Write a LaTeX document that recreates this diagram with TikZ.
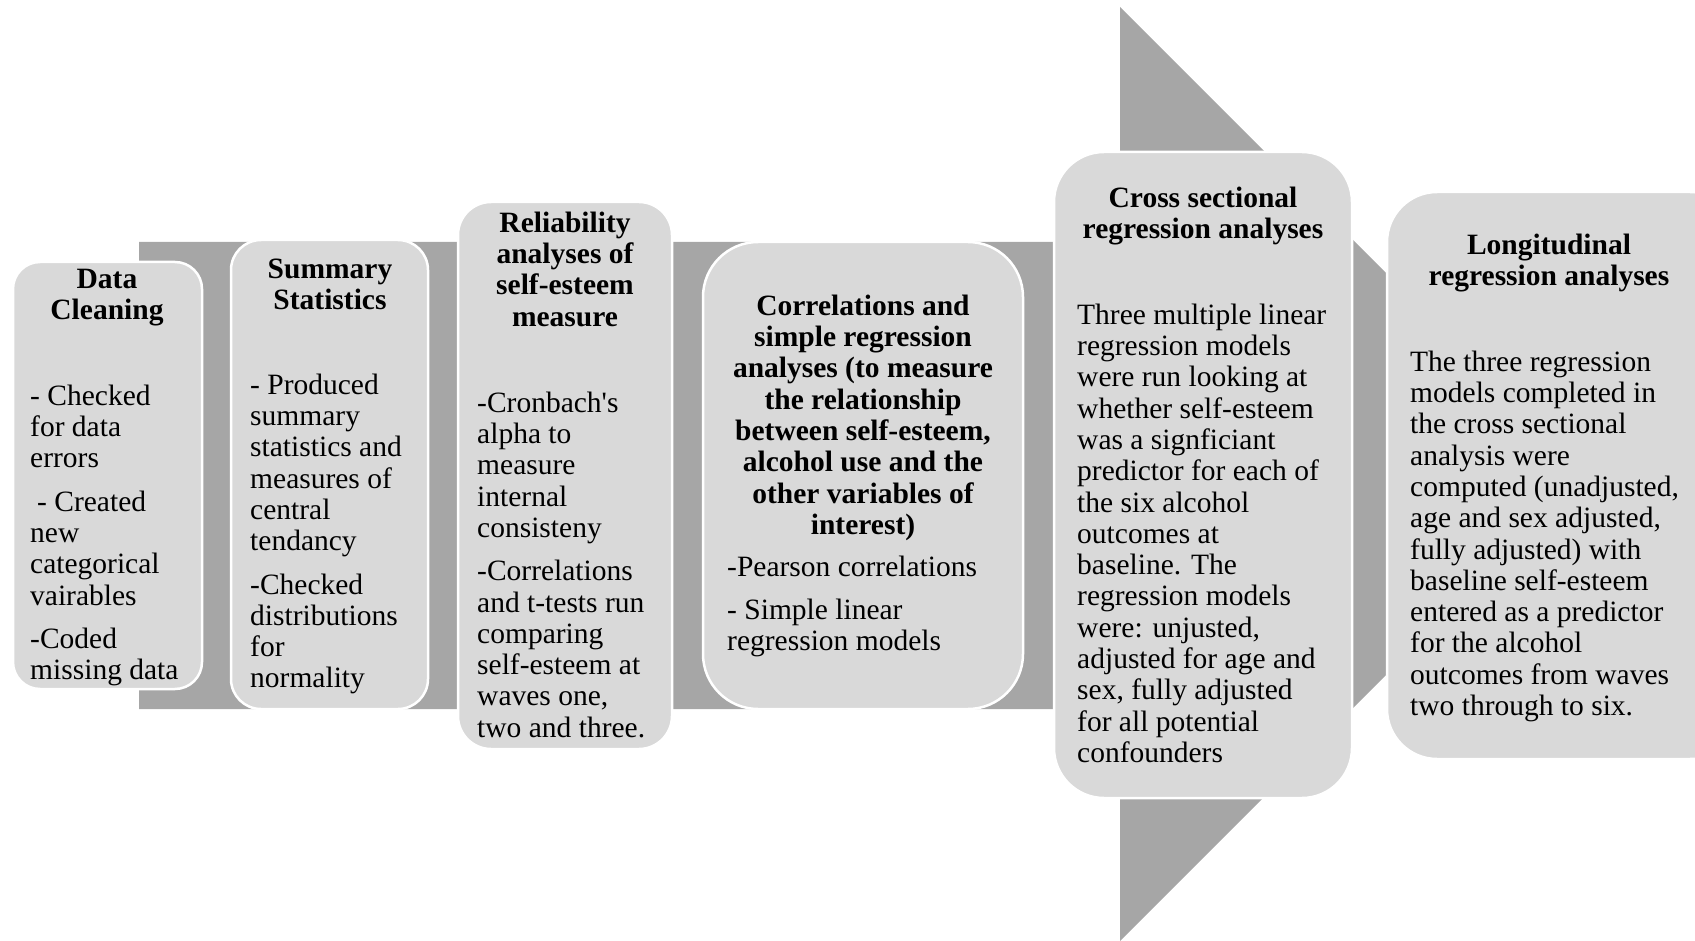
\documentclass[tikz,border=0pt]{standalone}
\usepackage{fontspec}
\setmainfont{Liberation Serif}
\definecolor{boxfill}{HTML}{D9D9D9}
\definecolor{arrowgray}{HTML}{A6A6A6}
\begin{document}
\begin{tikzpicture}[x=1pt,y=-1pt,
  box/.style={draw=white, line width=2.5pt, fill=boxfill, inner sep=0pt},
  hd/.style={font=\fontsize{29.5}{31.3}\selectfont\bfseries, align=center, anchor=north, inner sep=0pt},
  bd/.style={font=\fontsize{29.5}{31.3}\selectfont, align=left, anchor=north west, inner sep=0pt}]
\useasboundingbox (0,0) rectangle (1695,941);
\clip (0,0) rectangle (1695,941);
% big arrow
\fill[arrowgray] (139,242) -- (1120,242) -- (1120,7) -- (1587,474) -- (1120,941) -- (1120,709) -- (139,709) -- cycle;
% boxes
\node[box, rounded corners=27pt, minimum width=189pt, minimum height=427pt] (b1) at (107.5,475.5) {};
\node[box, rounded corners=30pt, minimum width=197pt, minimum height=469pt] (b2) at (329.5,474.5) {};
\node[box, rounded corners=33pt, minimum width=214pt, minimum height=547pt] (b3) at (565,475.5) {};
\node[box, rounded corners=55pt, minimum width=320pt, minimum height=467pt] (b4) at (863,475.5) {};
\node[box, rounded corners=50pt, minimum width=298pt, minimum height=646pt] (b5) at (1203,475) {};
\node[box, rounded corners=50pt, minimum width=353pt, minimum height=567pt] (b6) at (1563.5,475.5) {};
% texts
\node[hd] (h1) at (107,266.1) {\strut Data\\Cleaning};
\node[bd] (t1) at (30,383.1) {\strut- Checked\\for data\\errors\\[12pt]\hspace*{7pt}- Created\\new\\categorical\\vairables\\[12pt]-Coded\\missing data};
\node[hd] (h2) at (330,256.1) {\strut Summary\\Statistics};
\node[bd] (t2) at (250,372.1) {\strut- Produced\\summary\\statistics and\\measures of\\central\\tendancy\\[12pt]-Checked\\distributions\\for\\normality};
\node[hd] (h3) at (565,210.1) {\strut Reliability\\analyses of\\self-esteem\\measure};
\node[bd] (t3) at (477,390.1) {\strut-Cronbach\textquotesingle s\\alpha to\\measure\\internal\\consisteny\\[12pt]-Correlations\\and t-tests run\\comparing\\self-esteem at\\waves one,\\two and three.};
\node[hd] (h4) at (863,293.1) {\strut Correlations and\\simple regression\\analyses (to measure\\the relationship\\between self-esteem,\\alcohol use and the\\other variables of\\interest)};
\node[bd] (t4) at (727,554.1) {\strut-Pearson correlations\\[12pt]- Simple linear\\regression models};
\node[hd] (h5) at (1203,185.1) {\strut Cross sectional\\regression analyses};
\node[bd] (t5) at (1077,302.1) {\strut Three multiple linear\\regression models\\were run looking at\\whether self-esteem\\was a signficiant\\predictor for each of\\the six alcohol\\outcomes at\\baseline. The\\regression models\\were: unjusted,\\adjusted for age and\\sex, fully adjusted\\for all potential\\confounders};
\node[hd] (h6) at (1549,232.1) {\strut Longitudinal\\regression analyses};
\node[bd] (t6) at (1410,349.1) {\strut The three regression\\models completed in\\the cross sectional\\analysis were\\computed (unadjusted,\\age and sex adjusted,\\fully adjusted) with\\baseline self-esteem\\entered as a predictor\\for the alcohol\\outcomes from waves\\two through to six.};
\end{tikzpicture}
\end{document}
